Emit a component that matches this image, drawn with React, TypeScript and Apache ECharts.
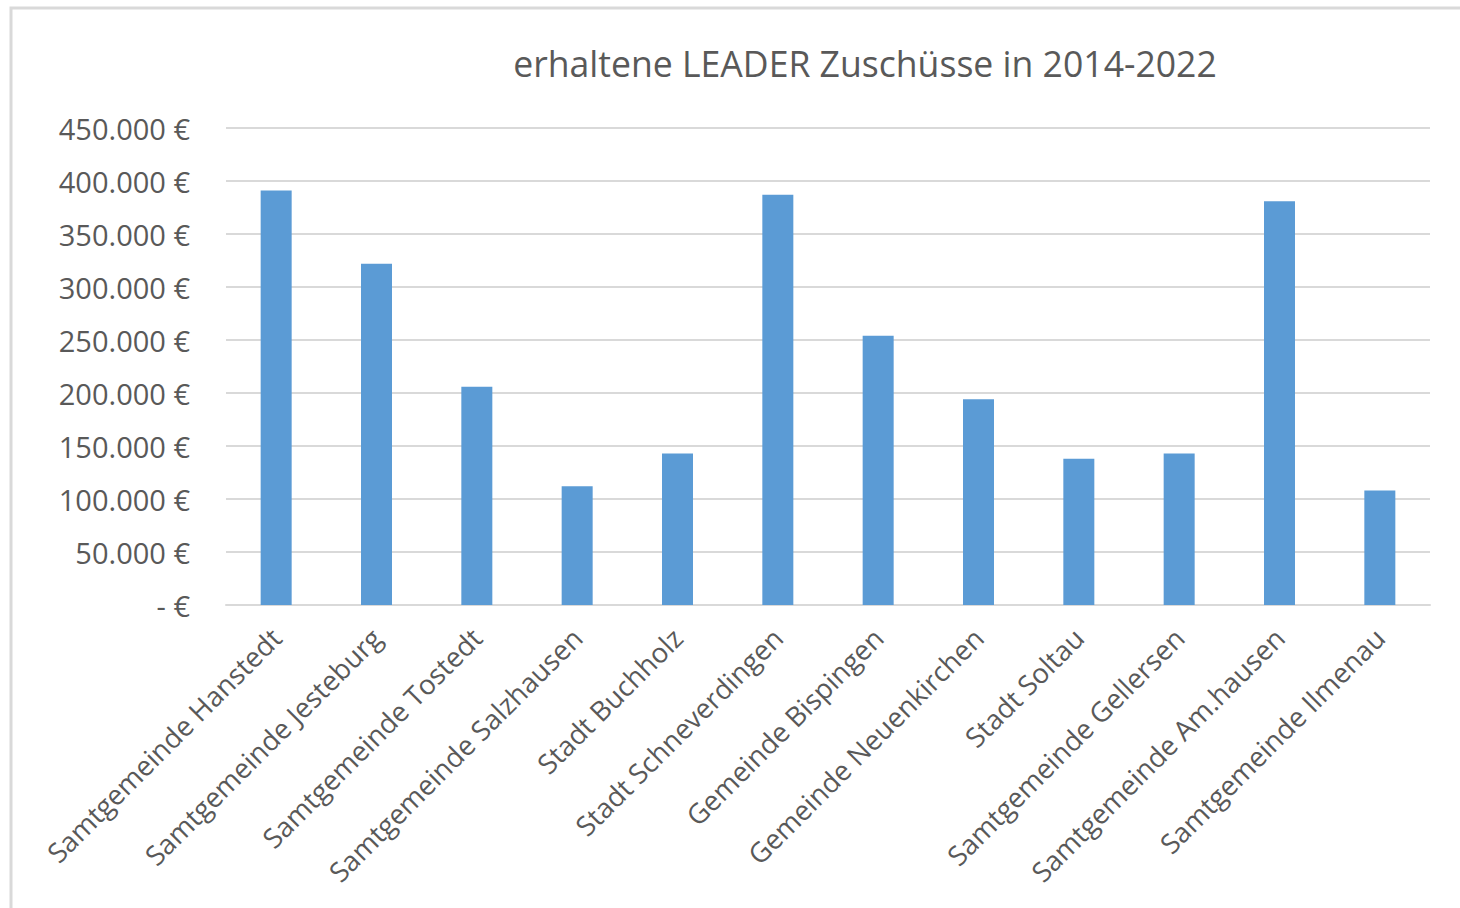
import React, { useEffect, useRef } from "react";
import * as echarts from "echarts";

const title = "erhaltene LEADER Zuschüsse in 2014-2022";
const categories = [
  "Samtgemeinde Hanstedt",
  "Samtgemeinde Jesteburg",
  "Samtgemeinde Tostedt",
  "Samtgemeinde Salzhausen",
  "Stadt Buchholz",
  "Stadt Schneverdingen",
  "Gemeinde Bispingen",
  "Gemeinde Neuenkirchen",
  "Stadt Soltau",
  "Samtgemeinde Gellersen",
  "Samtgemeinde Am.hausen",
  "Samtgemeinde Ilmenau",
];
const values = [391000, 322000, 206000, 112000, 143000, 387000, 254000, 194000, 138000, 143000, 381000, 108000];

function fmt(v: number): string {
  if (v === 0) return "- €";
  const s = Math.round(v).toString().replace(/\B(?=(\d{3})+(?!\d))/g, ".");
  return s + " €";
}

export default function App() {
  const ref = useRef<HTMLDivElement>(null);
  useEffect(() => {
    document.body.style.margin = "0";
    const chart = echarts.init(ref.current!, null, { renderer: "svg" });
    const font = "'Open Sans', 'Noto Sans', sans-serif";
    chart.setOption({
      animation: false,
      backgroundColor: "#ffffff",
      title: {
        text: title,
        left: 860,
        top: 40,
        textAlign: "center",
        textStyle: { fontFamily: font, fontSize: 35.6, fontWeight: "normal", color: "#595959" },
      },
      graphic: [
        {
          type: "rect",
          shape: { x: 11, y: 8, width: 1470, height: 920 },
          style: { fill: "none", stroke: "#d9d9d9", lineWidth: 3 },
          silent: true,
        },
      ],
      grid: { left: 226, right: 30, top: 128, bottom: 303 },
      xAxis: {
        type: "category",
        data: categories,
        axisLine: { show: true, lineStyle: { color: "#d9d9d9", width: 2 } },
        axisTick: { show: false },
        axisLabel: {
          rotate: 45,
          interval: 0,
          margin: 28,
          color: "#595959",
          fontFamily: font,
          fontSize: 27.5,
        },
      },
      yAxis: {
        type: "value",
        min: 0,
        max: 450000,
        interval: 50000,
        axisLine: { show: false },
        axisTick: { show: false },
        splitLine: { lineStyle: { color: "#d9d9d9", width: 2 } },
        axisLabel: {
          formatter: (v: number) => fmt(v),
          margin: 36,
          color: "#595959",
          fontFamily: font,
          fontSize: 29,
        },
      },
      series: [
        {
          type: "bar",
          data: values,
          barWidth: 31,
          itemStyle: { color: "#5b9bd5" },
        },
      ],
    });
    return () => chart.dispose();
  }, []);
  return <div ref={ref} style={{ width: 1460, height: 908 }} />;
}
